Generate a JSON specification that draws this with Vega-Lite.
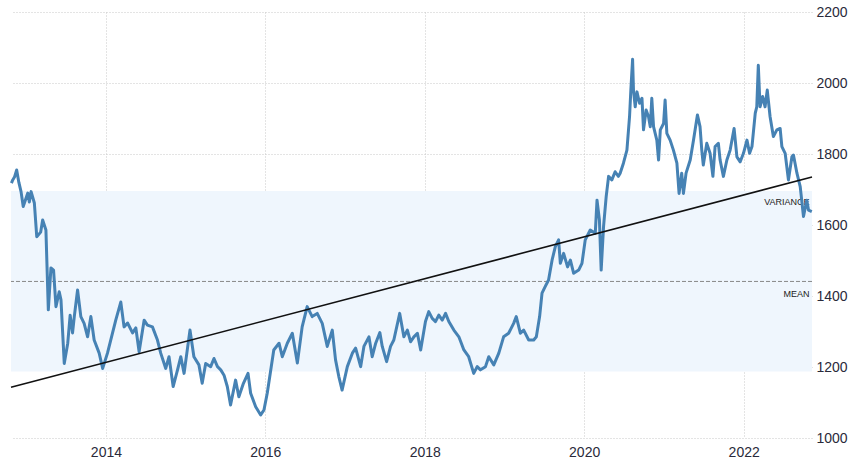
{
  "$schema": "https://vega.github.io/schema/vega-lite/v6.json",
  "width": 801,
  "height": 426,
  "autosize": "none",
  "padding": {"left": 11, "top": 12, "right": 44, "bottom": 34},
  "background": "white",
  "config": {"view": {"stroke": null}},
  "layer": [
    {
      "data": {"values": [{"lo": 1187, "hi": 1696}]},
      "mark": {"type": "rect", "color": "#eff6fd"},
      "encoding": {
        "y": {"field": "lo", "type": "quantitative", "scale": {"domain": [1000, 2200]}},
        "y2": {"field": "hi"}
      }
    },
    {
      "data": {"values": [{"d": "2012-10-25", "v": 1720}]},
      "mark": {"type": "point", "opacity": 0},
      "encoding": {
        "x": {"field": "d", "type": "temporal",
          "scale": {"domain": [{"year": 2012, "month": 10, "date": 23}, {"year": 2022, "month": 11, "date": 10}]},
          "axis": {"title": null, "domain": false, "ticks": false, "format": "%Y",
            "values": [{"year": 2014, "month": 1, "date": 1}, {"year": 2016, "month": 1, "date": 1}, {"year": 2018, "month": 1, "date": 1}, {"year": 2020, "month": 1, "date": 1}, {"year": 2022, "month": 1, "date": 1}],
            "labelFont": "Liberation Sans Narrow, Liberation Sans", "labelFontSize": 14, "labelColor": "#2a2a3a", "labelPadding": 7,
            "grid": true, "gridColor": "#c8c8c8", "gridDash": [1, 2], "gridWidth": 1}},
        "y": {"field": "v", "type": "quantitative",
          "scale": {"domain": [1000, 2200]},
          "axis": {"title": null, "orient": "right", "domain": false, "ticks": false, "format": "d",
            "values": [1000, 1200, 1400, 1600, 1800, 2000, 2200],
            "labelFont": "Liberation Sans Narrow, Liberation Sans", "labelFontSize": 14, "labelColor": "#2a2a3a", "labelPadding": 4,
            "grid": true, "gridColor": "#c8c8c8", "gridDash": [1, 2], "gridWidth": 1}}
      }
    },
    {
      "data": {"values": [{"m": 1441}]},
      "mark": {"type": "rule", "color": "#888", "strokeDash": [4, 2], "strokeWidth": 1},
      "encoding": {"y": {"field": "m", "type": "quantitative"}}
    },
    {
      "data": {"values": [
        {"d": "2022-11-08", "v": 1666, "t": "VARIANCE"},
        {"d": "2022-11-08", "v": 1407, "t": "MEAN"}
      ]},
      "mark": {"type": "text", "align": "right", "baseline": "middle", "fontSize": 9, "font": "Liberation Sans", "color": "#222", "dx": -2},
      "encoding": {
        "x": {"field": "d", "type": "temporal"},
        "y": {"field": "v", "type": "quantitative"},
        "text": {"field": "t"}
      }
    },
    {
      "data": {"values": [
        {"d": "2012-10-25", "v": 1718}, {"d": "2012-10-31", "v": 1727}, {"d": "2012-11-08", "v": 1735}, {"d": "2012-11-18", "v": 1755}, {"d": "2012-11-28", "v": 1720},
        {"d": "2012-12-08", "v": 1694}, {"d": "2012-12-18", "v": 1652}, {"d": "2013-01-08", "v": 1690}, {"d": "2013-01-15", "v": 1665}, {"d": "2013-01-23", "v": 1694},
        {"d": "2013-02-07", "v": 1662}, {"d": "2013-02-18", "v": 1567}, {"d": "2013-03-08", "v": 1580}, {"d": "2013-03-17", "v": 1614}, {"d": "2013-04-01", "v": 1586},
        {"d": "2013-04-12", "v": 1361}, {"d": "2013-04-24", "v": 1479}, {"d": "2013-05-06", "v": 1473}, {"d": "2013-05-17", "v": 1370}, {"d": "2013-06-01", "v": 1412},
        {"d": "2013-06-09", "v": 1389}, {"d": "2013-06-24", "v": 1210}, {"d": "2013-07-10", "v": 1267}, {"d": "2013-07-21", "v": 1346}, {"d": "2013-08-01", "v": 1296},
        {"d": "2013-08-09", "v": 1342}, {"d": "2013-08-24", "v": 1417}, {"d": "2013-09-08", "v": 1342}, {"d": "2013-09-23", "v": 1323}, {"d": "2013-10-09", "v": 1285},
        {"d": "2013-10-24", "v": 1342}, {"d": "2013-11-08", "v": 1276}, {"d": "2013-12-01", "v": 1239}, {"d": "2013-12-17", "v": 1196}, {"d": "2014-01-08", "v": 1239},
        {"d": "2014-02-15", "v": 1332}, {"d": "2014-03-10", "v": 1383}, {"d": "2014-03-25", "v": 1313}, {"d": "2014-04-10", "v": 1324}, {"d": "2014-05-03", "v": 1296},
        {"d": "2014-05-18", "v": 1310}, {"d": "2014-06-02", "v": 1243}, {"d": "2014-06-25", "v": 1332}, {"d": "2014-07-10", "v": 1318}, {"d": "2014-08-02", "v": 1313},
        {"d": "2014-08-25", "v": 1276}, {"d": "2014-09-09", "v": 1239}, {"d": "2014-10-02", "v": 1196}, {"d": "2014-10-17", "v": 1229}, {"d": "2014-11-05", "v": 1145},
        {"d": "2014-11-25", "v": 1192}, {"d": "2014-12-10", "v": 1229}, {"d": "2014-12-25", "v": 1182}, {"d": "2015-01-21", "v": 1304}, {"d": "2015-02-08", "v": 1229},
        {"d": "2015-03-03", "v": 1206}, {"d": "2015-03-18", "v": 1154}, {"d": "2015-04-03", "v": 1210}, {"d": "2015-04-26", "v": 1201}, {"d": "2015-05-11", "v": 1224},
        {"d": "2015-05-27", "v": 1201}, {"d": "2015-06-11", "v": 1192}, {"d": "2015-06-26", "v": 1177}, {"d": "2015-07-11", "v": 1145}, {"d": "2015-07-26", "v": 1093},
        {"d": "2015-08-18", "v": 1163}, {"d": "2015-09-02", "v": 1116}, {"d": "2015-09-23", "v": 1154}, {"d": "2015-10-14", "v": 1182}, {"d": "2015-10-26", "v": 1126},
        {"d": "2015-11-18", "v": 1088}, {"d": "2015-12-11", "v": 1065}, {"d": "2015-12-26", "v": 1079}, {"d": "2016-01-10", "v": 1126}, {"d": "2016-02-09", "v": 1248},
        {"d": "2016-03-04", "v": 1267}, {"d": "2016-03-19", "v": 1229}, {"d": "2016-04-11", "v": 1267}, {"d": "2016-05-04", "v": 1295}, {"d": "2016-05-27", "v": 1211},
        {"d": "2016-06-18", "v": 1313}, {"d": "2016-07-11", "v": 1370}, {"d": "2016-08-03", "v": 1342}, {"d": "2016-08-26", "v": 1351}, {"d": "2016-09-18", "v": 1323},
        {"d": "2016-10-11", "v": 1258}, {"d": "2016-11-03", "v": 1304}, {"d": "2016-11-18", "v": 1220}, {"d": "2016-12-03", "v": 1173}, {"d": "2016-12-18", "v": 1135},
        {"d": "2017-01-11", "v": 1201}, {"d": "2017-02-03", "v": 1239}, {"d": "2017-02-18", "v": 1253}, {"d": "2017-03-13", "v": 1201}, {"d": "2017-03-28", "v": 1258},
        {"d": "2017-04-20", "v": 1285}, {"d": "2017-05-05", "v": 1229}, {"d": "2017-05-21", "v": 1267}, {"d": "2017-06-09", "v": 1297}, {"d": "2017-06-20", "v": 1258},
        {"d": "2017-07-10", "v": 1215}, {"d": "2017-07-28", "v": 1258}, {"d": "2017-08-12", "v": 1276}, {"d": "2017-09-08", "v": 1351}, {"d": "2017-09-27", "v": 1285},
        {"d": "2017-10-13", "v": 1304}, {"d": "2017-10-28", "v": 1271}, {"d": "2017-11-12", "v": 1285}, {"d": "2017-11-28", "v": 1295}, {"d": "2017-12-13", "v": 1248},
        {"d": "2018-01-04", "v": 1328}, {"d": "2018-01-19", "v": 1356}, {"d": "2018-02-04", "v": 1337}, {"d": "2018-02-19", "v": 1328}, {"d": "2018-03-06", "v": 1346},
        {"d": "2018-03-22", "v": 1332}, {"d": "2018-04-06", "v": 1351}, {"d": "2018-04-21", "v": 1328}, {"d": "2018-05-14", "v": 1304}, {"d": "2018-06-06", "v": 1285},
        {"d": "2018-06-29", "v": 1248}, {"d": "2018-07-21", "v": 1229}, {"d": "2018-08-13", "v": 1182}, {"d": "2018-08-29", "v": 1201}, {"d": "2018-09-13", "v": 1192},
        {"d": "2018-10-06", "v": 1201}, {"d": "2018-10-21", "v": 1229}, {"d": "2018-11-13", "v": 1206}, {"d": "2018-12-06", "v": 1239}, {"d": "2018-12-28", "v": 1285},
        {"d": "2019-01-20", "v": 1295}, {"d": "2019-02-12", "v": 1323}, {"d": "2019-02-24", "v": 1342}, {"d": "2019-03-15", "v": 1295}, {"d": "2019-03-30", "v": 1304},
        {"d": "2019-04-22", "v": 1276}, {"d": "2019-05-15", "v": 1276}, {"d": "2019-05-27", "v": 1285}, {"d": "2019-06-11", "v": 1342}, {"d": "2019-06-22", "v": 1408},
        {"d": "2019-07-07", "v": 1427}, {"d": "2019-07-22", "v": 1445}, {"d": "2019-08-07", "v": 1501}, {"d": "2019-08-22", "v": 1539}, {"d": "2019-09-06", "v": 1558},
        {"d": "2019-09-14", "v": 1492}, {"d": "2019-09-29", "v": 1520}, {"d": "2019-10-17", "v": 1482}, {"d": "2019-10-30", "v": 1501}, {"d": "2019-11-14", "v": 1464},
        {"d": "2019-12-07", "v": 1473}, {"d": "2019-12-22", "v": 1492}, {"d": "2020-01-06", "v": 1558}, {"d": "2020-01-29", "v": 1586}, {"d": "2020-02-21", "v": 1577},
        {"d": "2020-02-29", "v": 1670}, {"d": "2020-03-11", "v": 1614}, {"d": "2020-03-19", "v": 1473}, {"d": "2020-03-30", "v": 1596}, {"d": "2020-04-11", "v": 1680},
        {"d": "2020-04-22", "v": 1737}, {"d": "2020-05-07", "v": 1727}, {"d": "2020-05-22", "v": 1750}, {"d": "2020-06-06", "v": 1737}, {"d": "2020-06-14", "v": 1746},
        {"d": "2020-06-29", "v": 1774}, {"d": "2020-07-15", "v": 1811}, {"d": "2020-07-27", "v": 1905}, {"d": "2020-08-02", "v": 1980}, {"d": "2020-08-10", "v": 2067},
        {"d": "2020-08-14", "v": 1980}, {"d": "2020-08-22", "v": 1933}, {"d": "2020-08-30", "v": 1975}, {"d": "2020-09-11", "v": 1943}, {"d": "2020-09-22", "v": 1957},
        {"d": "2020-09-29", "v": 1868}, {"d": "2020-10-11", "v": 1924}, {"d": "2020-10-22", "v": 1905}, {"d": "2020-10-30", "v": 1877}, {"d": "2020-11-06", "v": 1957},
        {"d": "2020-11-14", "v": 1877}, {"d": "2020-11-29", "v": 1839}, {"d": "2020-12-07", "v": 1783}, {"d": "2020-12-15", "v": 1868}, {"d": "2020-12-30", "v": 1886},
        {"d": "2021-01-06", "v": 1952}, {"d": "2021-01-14", "v": 1858}, {"d": "2021-01-29", "v": 1839}, {"d": "2021-02-13", "v": 1811}, {"d": "2021-03-01", "v": 1774},
        {"d": "2021-03-11", "v": 1689}, {"d": "2021-03-23", "v": 1746}, {"d": "2021-03-31", "v": 1689}, {"d": "2021-04-12", "v": 1746}, {"d": "2021-05-01", "v": 1783},
        {"d": "2021-05-16", "v": 1839}, {"d": "2021-06-03", "v": 1910}, {"d": "2021-06-15", "v": 1877}, {"d": "2021-06-23", "v": 1811}, {"d": "2021-06-30", "v": 1769},
        {"d": "2021-07-16", "v": 1830}, {"d": "2021-07-31", "v": 1802}, {"d": "2021-08-13", "v": 1737}, {"d": "2021-08-23", "v": 1821}, {"d": "2021-09-07", "v": 1830},
        {"d": "2021-09-15", "v": 1783}, {"d": "2021-09-30", "v": 1737}, {"d": "2021-10-16", "v": 1783}, {"d": "2021-10-31", "v": 1811}, {"d": "2021-11-18", "v": 1872},
        {"d": "2021-12-01", "v": 1792}, {"d": "2021-12-16", "v": 1778}, {"d": "2021-12-31", "v": 1802}, {"d": "2022-01-16", "v": 1839}, {"d": "2022-01-28", "v": 1802},
        {"d": "2022-02-08", "v": 1821}, {"d": "2022-02-23", "v": 1915}, {"d": "2022-03-02", "v": 1933}, {"d": "2022-03-09", "v": 2050}, {"d": "2022-03-17", "v": 1933},
        {"d": "2022-03-29", "v": 1962}, {"d": "2022-04-09", "v": 1933}, {"d": "2022-04-19", "v": 1980}, {"d": "2022-05-02", "v": 1905}, {"d": "2022-05-17", "v": 1849},
        {"d": "2022-06-02", "v": 1868}, {"d": "2022-06-17", "v": 1872}, {"d": "2022-06-25", "v": 1821}, {"d": "2022-07-10", "v": 1802}, {"d": "2022-07-25", "v": 1727},
        {"d": "2022-08-10", "v": 1792}, {"d": "2022-08-17", "v": 1797}, {"d": "2022-09-02", "v": 1746}, {"d": "2022-09-17", "v": 1708}, {"d": "2022-10-02", "v": 1624},
        {"d": "2022-10-17", "v": 1670}, {"d": "2022-10-25", "v": 1642}, {"d": "2022-11-09", "v": 1638}
      ]},
      "mark": {"type": "line", "color": "#4682b4", "strokeWidth": 3, "strokeJoin": "round"},
      "encoding": {
        "x": {"field": "d", "type": "temporal"},
        "y": {"field": "v", "type": "quantitative"}
      }
    },
    {
      "data": {"values": [{"d": "2012-10-23", "v": 1143}, {"d": "2022-11-10", "v": 1735}]},
      "mark": {"type": "line", "color": "#111", "strokeWidth": 1.6},
      "encoding": {
        "x": {"field": "d", "type": "temporal"},
        "y": {"field": "v", "type": "quantitative"}
      }
    }
  ]
}
